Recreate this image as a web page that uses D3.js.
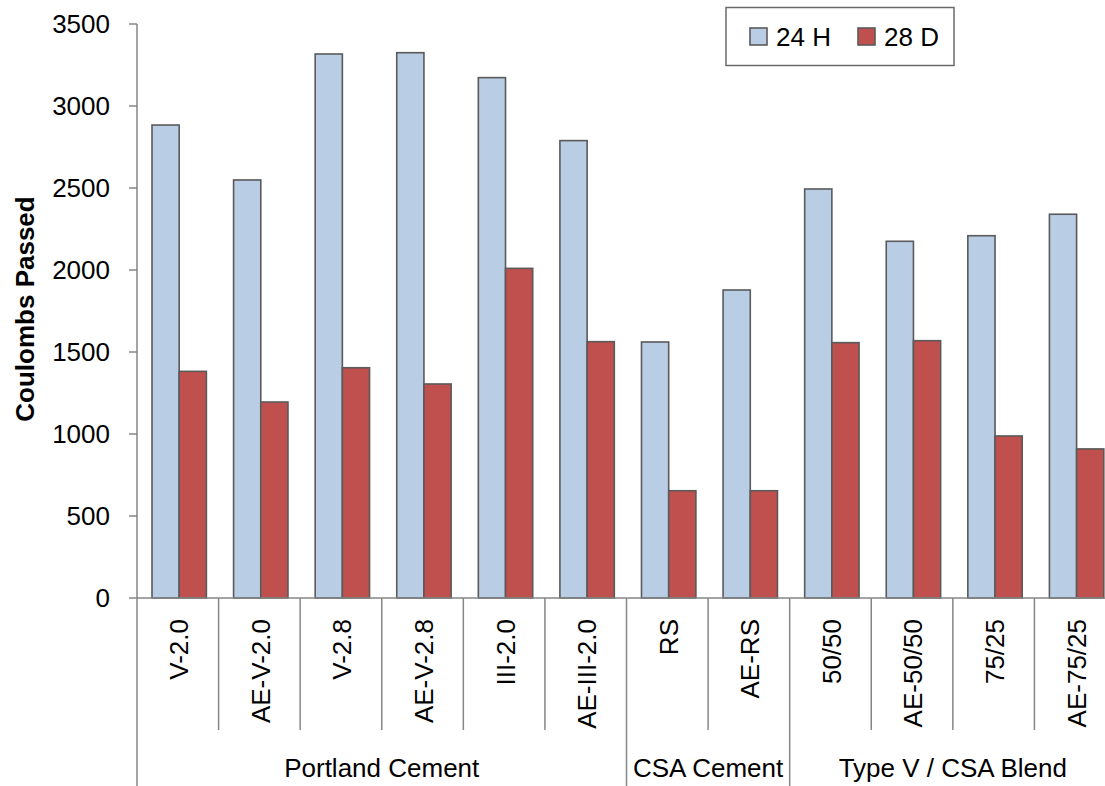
<!DOCTYPE html>
<html>
<head>
<meta charset="utf-8">
<script src="https://cdn.jsdelivr.net/npm/d3@7"></script>
<style>
  html, body { margin: 0; padding: 0; background: #fff; }
  svg { display: block; }
  text { font-family: "Liberation Sans", Arial, sans-serif; fill: #000; }
</style>
</head>
<body>
<svg id="chart" width="1105" height="786"></svg>
<script>
const categories = ["V-2.0", "AE-V-2.0", "V-2.8", "AE-V-2.8", "III-2.0", "AE-III-2.0",
                    "RS", "AE-RS", "50/50", "AE-50/50", "75/25", "AE-75/25"];
const series = ["24 H", "28 D"];
const values24H = [2884, 2549, 3317, 3325, 3173, 2789, 1561, 1878, 2494, 2175, 2209, 2340];
const values28D = [1382, 1195, 1404, 1305, 2010, 1563, 654, 654, 1557, 1569, 988, 909];
const groups = [
  { name: "Portland Cement", from: "V-2.0", to: "AE-III-2.0" },
  { name: "CSA Cement", from: "RS", to: "AE-RS" },
  { name: "Type V / CSA Blend", from: "50/50", to: "AE-75/25" }
];
const yTicks = [0, 500, 1000, 1500, 2000, 2500, 3000, 3500];
const yTitle = "Coulombs Passed";
const colors = { "24 H": "#B9CDE5", "28 D": "#C0504D" };

(function () {
const svg = d3.select("#chart");
const mLeft = 137, mRight = 1116, mTop = 24, mBottom = 598;
const axisColor = "#868686";
const fs = "26px";

const x0 = d3.scaleBand().domain(categories).range([mLeft, mRight]).paddingInner(0).paddingOuter(0);
const step = x0.step();
const x1 = d3.scaleBand().domain(series).range([1.4, step + 1.4]).paddingInner(0).paddingOuter(0.5);
const y = d3.scaleLinear().domain([0, 3500]).range([mBottom, mTop]);

const data = categories.map((c, i) => ({ cat: c, vals: [
  { s: "24 H", v: values24H[i] }, { s: "28 D", v: values28D[i] } ] }));

// Bars
const g = svg.append("g");
g.selectAll("g.cat").data(data).join("g")
  .attr("transform", d => `translate(${x0(d.cat)},0)`)
  .selectAll("rect").data(d => d.vals).join("rect")
  .attr("x", d => x1(d.s))
  .attr("width", x1.bandwidth())
  .attr("y", d => y(d.v))
  .attr("height", d => y(0) - y(d.v))
  .attr("fill", d => colors[d.s])
  .attr("stroke", "#5a5a5a")
  .attr("stroke-width", 1.6);

// Y axis
const yAxis = svg.append("g");
yAxis.append("line").attr("x1", mLeft).attr("x2", mLeft).attr("y1", y(3500)).attr("y2", 786)
  .attr("stroke", axisColor).attr("stroke-width", 1.5);
yAxis.selectAll("line.tick").data(yTicks).join("line")
  .attr("class", "tick")
  .attr("x1", mLeft - 8).attr("x2", mLeft).attr("y1", d => y(d)).attr("y2", d => y(d))
  .attr("stroke", axisColor).attr("stroke-width", 1.5);
yAxis.selectAll("text").data(yTicks).join("text")
  .attr("x", 110).attr("y", d => y(d)).attr("dy", "0.36em")
  .attr("text-anchor", "end")
  .style("font-size", fs)
  .text(d => d);

// Y title
svg.append("text")
  .attr("transform", `translate(25,309) rotate(-90)`)
  .attr("text-anchor", "middle").attr("dy", "0.36em")
  .style("font-size", "26px").style("font-weight", "bold")
  .text(yTitle);

// X axis line
svg.append("line").attr("x1", mLeft).attr("x2", 1105).attr("y1", mBottom).attr("y2", mBottom)
  .attr("stroke", axisColor).attr("stroke-width", 1.5);

// Separators
const groupEdges = new Set(groups.map(gr => gr.from));
const boundaries = categories.slice(1);
svg.selectAll("line.sep").data(boundaries).join("line")
  .attr("class", "sep")
  .attr("x1", d => x0(d)).attr("x2", d => x0(d))
  .attr("y1", mBottom).attr("y2", d => groupEdges.has(d) ? 786 : 730)
  .attr("stroke", axisColor).attr("stroke-width", 1.5);

// Category labels
svg.selectAll("text.cat").data(categories).join("text")
  .attr("class", "cat")
  .attr("transform", d => `translate(${x0(d) + step / 2 + 1},619) rotate(-90)`)
  .attr("text-anchor", "end").attr("dy", "0.36em")
  .style("font-size", fs)
  .text(d => d);

// Group labels
svg.selectAll("text.grp").data(groups).join("text")
  .attr("class", "grp")
  .attr("x", d => (x0(d.from) + x0(d.to) + step) / 2)
  .attr("y", 777)
  .attr("text-anchor", "middle")
  .style("font-size", fs)
  .text(d => d.name);

// Legend
const lg = svg.append("g");
lg.append("rect").attr("x", 726).attr("y", 7.5).attr("width", 228).attr("height", 58)
  .attr("fill", "#fff").attr("stroke", "#6a6a6a").attr("stroke-width", 1.5);
const legendX = { "24 H": 750, "28 D": 858 };
series.forEach(s => {
  lg.append("rect").attr("x", legendX[s]).attr("y", 28).attr("width", 17).attr("height", 17)
    .attr("fill", colors[s]).attr("stroke", "#5a5a5a").attr("stroke-width", 1.6);
  lg.append("text").attr("x", legendX[s] + 26).attr("y", 36.5).attr("dy", "0.36em")
    .style("font-size", fs)
    .text(s);
});
})();
</script>
</body>
</html>
